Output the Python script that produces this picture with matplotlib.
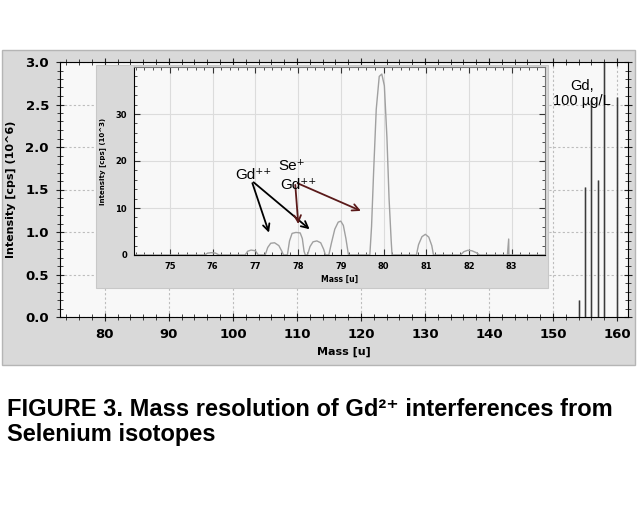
import matplotlib
matplotlib.use("Agg")
import matplotlib.pyplot as plt
from matplotlib.patches import Rectangle
from matplotlib.ticker import MultipleLocator, FormatStrFormatter

# main spectrum: Gd isotopes, intensity in 10^6 cps
gd_mass = [154, 155, 156, 157, 158, 160]
gd_int = [0.20, 1.53, 2.55, 1.61, 3.05, 2.59]

# inset: Se region, intensity in 10^3 cps
inset_mass = [74.2, 75.82, 75.88, 75.97, 76.07, 76.15,
              76.76, 76.82, 76.9, 77.0, 77.07,
              77.23, 77.29, 77.36, 77.45, 77.55, 77.62, 77.66,
              77.75, 77.8, 77.86, 77.95, 78.05, 78.1, 78.14, 78.17,
              78.22, 78.28, 78.35, 78.44, 78.53, 78.6, 78.64,
              78.72, 78.78, 78.86, 78.94, 79.0, 79.06, 79.12, 79.18,
              79.68, 79.72, 79.77, 79.83, 79.9, 79.96, 80.02, 80.08, 80.13, 80.18, 80.2,
              80.77, 80.82, 80.9, 80.98, 81.06, 81.13, 81.17,
              81.8, 81.88, 81.97, 82.07, 82.17, 82.25,
              82.9, 82.93, 82.935, 83.8]
inset_cps = [0, 0, 0.4, 0.5, 0.4, 0,
             0, 0.8, 1.05, 0.9, 0,
             0, 1.6, 2.5, 2.6, 2.0, 0.8, 0,
             0, 3.0, 4.6, 4.8, 4.7, 3.5, 0.8, 0,
             0, 1.8, 2.8, 3.0, 2.6, 1.2, 0,
             0, 2.5, 5.5, 7.0, 7.2, 6.3, 3.5, 0,
             0, 6, 18, 31, 38, 38.5, 36, 25, 12, 3, 0,
             0, 2.2, 3.9, 4.4, 3.8, 2.0, 0,
             0, 0.7, 1.0, 0.9, 0.5, 0,
             0, 3.4, 0, 0]

W, H = 639, 532
fig = plt.figure(figsize=(6.39, 5.32), dpi=100)
fig.patch.set_facecolor("white")
sans = ["Liberation Sans", "DejaVu Sans"]

# grey frame behind the main plot
fig.patches.append(Rectangle((2 / W, 1 - 365 / H), 633 / W, 315 / H, transform=fig.transFigure,
                             facecolor="#d9d9d9", edgecolor="#b5b5b5", lw=1, zorder=-1))

ax = fig.add_axes([60 / W, 1 - 317 / H, 568 / W, 255 / H])
ax.set_facecolor("#f8f8f8")
ax.vlines(gd_mass, 0, gd_int, color="#b0b0b0", lw=1.8)
ax.vlines(gd_mass, 0, gd_int, color="#383838", lw=0.7)
ax.set_xlim(73.0, 161.7)
ax.set_ylim(0, 3.0)
ax.set_xticks(range(80, 161, 10))
ax.xaxis.set_minor_locator(MultipleLocator(2))
ax.yaxis.set_major_locator(MultipleLocator(0.5))
ax.yaxis.set_minor_locator(MultipleLocator(0.1))
ax.yaxis.set_major_formatter(FormatStrFormatter("%.1f"))
ax.grid(True, which="major", color="#bdbdbd", lw=0.8, ls=(0, (2, 2)))
ax.tick_params(which="both", direction="inout", top=True, right=True, color="#222222")
ax.tick_params(which="major", length=6, labelsize=9.5, pad=5)
ax.tick_params(which="minor", length=4)
for lab in ax.get_xticklabels() + ax.get_yticklabels():
    lab.set_fontweight("bold")
ax.set_xlabel("Mass [u]", fontsize=8, fontweight="bold", labelpad=4)
ax.set_ylabel("Intensity [cps] (10^6)", fontsize=8, fontweight="bold", labelpad=7)
ax.text(154.5, 2.63, "Gd,\n100 µg/L", ha="center", va="center", fontsize=10.5,
        family=sans, linespacing=1.1)

# grey frame behind the inset
fig.patches.append(Rectangle((96 / W, 1 - 288 / H), 452 / W, 223 / H, transform=fig.transFigure,
                             facecolor="#d9d9d9", edgecolor="#c8c8c8", lw=0.8, zorder=1))

ins = fig.add_axes([134 / W, 1 - 255 / H, 411 / W, 188 / H])
ins.set_zorder(3)
ins.set_facecolor("#f8f8f8")
ins.plot(inset_mass, inset_cps, color="#a0a0a0", lw=1.0)
ins.set_xlim(74.16, 83.78)
ins.set_ylim(0, 40)
ins.set_xticks(range(75, 84))
ins.set_yticks([0, 10, 20, 30])
ins.xaxis.set_minor_locator(MultipleLocator(0.2))
ins.yaxis.set_minor_locator(MultipleLocator(2))
ins.grid(True, which="major", color="#dcdcdc", lw=0.8)
ins.tick_params(which="both", direction="in", top=True, right=True, color="#333333")
ins.tick_params(which="major", length=4, labelsize=6, pad=5)
ins.tick_params(which="minor", length=2)
for lab in ins.get_xticklabels() + ins.get_yticklabels():
    lab.set_fontweight("bold")
for s in ["top", "right"]:
    ins.spines[s].set_color("#777777")
ins.set_xlabel("Mass [u]", fontsize=5.5, fontweight="bold", labelpad=3)
ins.set_ylabel("Intensity [cps] (10^3)", fontsize=5, fontweight="bold", labelpad=7)

# annotations
arr = dict(arrowstyle="->", lw=1.3, mutation_scale=12)
ins.annotate("", xy=(77.34, 4.2), xytext=(76.91, 15.85), arrowprops=dict(arr, color="black"))
ins.annotate("", xy=(78.32, 5.1), xytext=(76.91, 15.85), arrowprops=dict(arr, color="black"))
ins.annotate("", xy=(78.01, 6.0), xytext=(77.93, 15.5), arrowprops=dict(arr, color="#5a1a1a"))
ins.annotate("", xy=(79.53, 9.15), xytext=(77.93, 15.5), arrowprops=dict(arr, color="#5a1a1a"))
ins.text(76.95, 17.0, "Gd⁺⁺", ha="center", va="center", fontsize=11, family=sans)
ins.text(77.85, 18.9, "Se⁺", ha="center", va="center", fontsize=11, family=sans)
ins.text(78.0, 14.9, "Gd⁺⁺", ha="center", va="center", fontsize=11, family=sans)

fig.text(7 / W, 1 - 398 / H,
         "FIGURE 3. Mass resolution of Gd²⁺ interferences from\nSelenium isotopes",
         ha="left", va="top", fontsize=17, fontweight="bold", family=sans, linespacing=1.1)

fig.savefig("out.png", dpi=100)
